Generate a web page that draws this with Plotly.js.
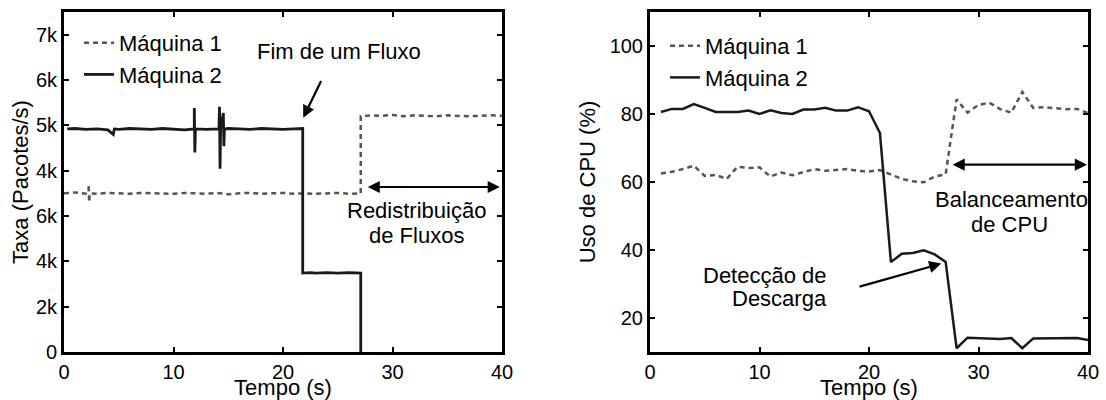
<!DOCTYPE html>
<html>
<head>
<meta charset="utf-8">
<script src="https://cdn.plot.ly/plotly-3.0.1.min.js"></script>
<style>
html,body{margin:0;padding:0;background:#fff;}
#chart{width:1106px;height:400px;}
</style>
</head>
<body>
<div id="chart"></div>
<script>
// ---------- Left panel: packet rate (axis units = tick positions of the broken axis) ----------
const rateTickVals = [0, 1, 2, 3, 4, 5, 6, 7];
const rateTickText = ['0', '2k', '4k', '6k', '4k', '5k', '6k', '7k'];

const rateM1Time = [0, 1, 2, 2.25, 2.25, 2.3, 2.35, 3, 4, 5, 6, 7, 8, 9, 10, 11, 12, 13, 14, 15, 16, 17, 18, 19, 20, 21, 22, 23, 24, 25, 26, 27.1,
  27.1, 28, 29, 30, 31, 32, 33, 34, 35, 36, 37, 38, 39, 40];
const rateM1Val = [3.50, 3.52, 3.49, 3.50, 3.70, 3.30, 3.50, 3.49, 3.51, 3.50, 3.49, 3.51, 3.50, 3.50, 3.49, 3.51, 3.50, 3.49, 3.51, 3.48, 3.50, 3.51, 3.49, 3.50, 3.51, 3.49, 3.50, 3.49, 3.50, 3.51, 3.49, 3.50,
  5.20, 5.22, 5.21, 5.23, 5.20, 5.22, 5.21, 5.20, 5.22, 5.21, 5.20, 5.21, 5.22, 5.21];

const rateM2Time = [0.3, 1, 2, 3, 4, 4.5, 4.6, 5, 6, 7, 8, 9, 10, 11, 11.9, 11.9, 11.95, 12, 13, 14.15, 14.2, 14.25, 14.3, 14.55, 14.6, 14.65, 15, 16, 17, 18, 19, 20, 21, 21.8,
  21.8, 22.5, 23, 24, 25, 26, 27.1, 27.1];
const rateM2Val = [4.92, 4.93, 4.91, 4.92, 4.90, 4.80, 4.92, 4.91, 4.93, 4.92, 4.91, 4.93, 4.92, 4.90, 4.92, 5.38, 4.40, 4.92, 4.91, 4.92, 5.41, 4.04, 4.92, 5.27, 4.54, 4.92, 4.93, 4.92, 4.91, 4.93, 4.92, 4.91, 4.92, 4.93,
  1.74, 1.75, 1.74, 1.75, 1.74, 1.75, 1.74, 0];

// ---------- Right panel: CPU usage (%) ----------
const cpuTime = [1,2,3,4,5,6,7,8,9,10,11,12,13,14,15,16,17,18,19,20,21,22,23,24,25,26,27,28,29,30,31,32,33,34,35,36,37,38,39,40];
const cpuM1 = [62.5,63.0,63.8,64.8,61.8,62.1,60.9,64.5,64.1,64.3,61.6,62.8,62.0,62.8,63.8,63.3,63.5,63.8,63.3,63.1,
  63.5,62.3,60.9,60.2,59.9,61.6,62.3,84.3,80.4,82.7,83.3,81.4,80.4,86.5,81.8,82.0,81.7,81.4,81.5,80.3];
const cpuM2 = [80.6,81.5,81.5,82.9,81.8,80.6,80.6,80.6,81.0,80.0,81.1,80.3,80.0,81.3,81.3,81.8,81.0,81.0,82.0,80.8,
  74.4,36.5,38.9,39.1,39.9,38.7,36.5,11.1,14.2,14.0,13.9,13.8,14.1,11.1,14.0,14.0,14.1,14.1,14.1,13.5];

const seriesNames = ['Máquina 1', 'Máquina 2'];
const timeTicks = [0, 10, 20, 30, 40];
const cpuTicks = [20, 40, 60, 80, 100];

const FONT = 'Liberation Sans, Arial, sans-serif';
const TXT = 22;
const c1 = '#555555', c2 = '#1a1a1a';

const traces = [
  {x: rateM1Time, y: rateM1Val, name: seriesNames[0], xaxis: 'x', yaxis: 'y', mode: 'lines',
   line: {color: c1, width: 2.5, dash: '5px,4px'}, legend: 'legend'},
  {x: rateM2Time, y: rateM2Val, name: seriesNames[1], xaxis: 'x', yaxis: 'y', mode: 'lines',
   line: {color: c2, width: 2.8}, legend: 'legend'},
  {x: cpuTime, y: cpuM1, name: seriesNames[0], xaxis: 'x2', yaxis: 'y2', mode: 'lines',
   line: {color: c1, width: 2.5, dash: '5px,4px'}, legend: 'legend2'},
  {x: cpuTime, y: cpuM2, name: seriesNames[1], xaxis: 'x2', yaxis: 'y2', mode: 'lines',
   line: {color: c2, width: 2.5}, legend: 'legend2'}
];

const axBase = {
  showline: true, linecolor: '#000', linewidth: 3, mirror: 'ticks',
  ticks: 'inside', ticklen: 5, tickwidth: 2, tickcolor: '#000',
  showgrid: false, zeroline: false,
  tickfont: {family: FONT, size: 20, color: '#000'}
};

const W = 1106, H = 400;
const px = v => v / W, py = v => 1 - v / H;

const layout = {
  width: W, height: H,
  margin: {l: 0, r: 0, t: 0, b: 0},
  paper_bgcolor: '#fff', plot_bgcolor: '#fff',
  font: {family: FONT, size: TXT, color: '#000'},
  showlegend: true,
  xaxis: Object.assign({}, axBase, {domain: [px(64), px(502)], range: [0, 40], tickvals: timeTicks,
    title: {text: 'Tempo (s)', font: {family: FONT, size: TXT}, standoff: 3}, anchor: 'y'}),
  yaxis: Object.assign({}, axBase, {domain: [py(352), py(12)], range: [0, 7.5], tickvals: rateTickVals, ticktext: rateTickText,
    title: {text: 'Taxa (Pacotes/s)', font: {family: FONT, size: TXT}, standoff: 2}, anchor: 'x'}),
  xaxis2: Object.assign({}, axBase, {domain: [px(650), px(1088)], range: [0, 40], tickvals: timeTicks,
    title: {text: 'Tempo (s)', font: {family: FONT, size: TXT}, standoff: 3}, anchor: 'y2'}),
  yaxis2: Object.assign({}, axBase, {domain: [py(352), py(12)], range: [10, 110], tickvals: cpuTicks,
    title: {text: 'Uso de CPU (%)', font: {family: FONT, size: TXT}, standoff: 8}, anchor: 'x2'}),
  legend: {x: px(79), y: py(22), xanchor: 'left', yanchor: 'top', bgcolor: 'rgba(0,0,0,0)',
    font: {family: FONT, size: TXT}, itemwidth: 30, tracegroupgap: 0},
  legend2: {x: px(665), y: py(25), xanchor: 'left', yanchor: 'top', bgcolor: 'rgba(0,0,0,0)',
    font: {family: FONT, size: TXT}, itemwidth: 30, tracegroupgap: 0},
  annotations: [
    {xref: 'x', yref: 'y', x: 21.85, y: 5.17, ax: 23.55, ay: 6.01, axref: 'x', ayref: 'y',
     showarrow: true, arrowhead: 2, arrowsize: 1.1, arrowwidth: 2.2, arrowcolor: '#000', text: ''},
    {xref: 'x', yref: 'y', x: 25.1, y: 6.62, text: 'Fim de um Fluxo', showarrow: false},
    {xref: 'x', yref: 'y', x: 39.8, y: 3.64, ax: 27.6, ay: 3.64, axref: 'x', ayref: 'y',
     showarrow: true, arrowhead: 2, startarrowhead: 2, arrowside: 'end+start', arrowsize: 1.1, startarrowsize: 1.1,
     arrowwidth: 2.2, arrowcolor: '#000', text: ''},
    {xref: 'x', yref: 'y', x: 32.2, y: (351.7 - 210) / 45.5, text: 'Redistribuição', showarrow: false},
    {xref: 'x', yref: 'y', x: 32.2, y: (351.7 - 235) / 45.5, text: 'de Fluxos', showarrow: false},
    {xref: 'x2', yref: 'y2', x: 39.9, y: 65.1, ax: 27.5, ay: 65.1, axref: 'x2', ayref: 'y2',
     showarrow: true, arrowhead: 2, startarrowhead: 2, arrowside: 'end+start', arrowsize: 1.1, startarrowsize: 1.1,
     arrowwidth: 2.2, arrowcolor: '#000', text: ''},
    {xref: 'x2', yref: 'y2', x: 33.0, y: 54.9, text: 'Balanceamento', showarrow: false},
    {xref: 'x2', yref: 'y2', x: 32.8, y: 47.6, text: 'de CPU', showarrow: false},
    {xref: 'x2', yref: 'y2', x: 26.6, y: 36.0, ax: 19.0, ay: 29.1, axref: 'x2', ayref: 'y2',
     showarrow: true, arrowhead: 2, arrowsize: 1.1, arrowwidth: 2.2, arrowcolor: '#000', text: ''},
    {xref: 'x2', yref: 'y2', x: 10.5, y: 32.5, text: 'Detecção de', showarrow: false},
    {xref: 'x2', yref: 'y2', x: 11.8, y: 25.7, text: 'Descarga', showarrow: false}
  ]
};

Plotly.newPlot('chart', traces, layout, {displayModeBar: false, staticPlot: true});
</script>
</body>
</html>
